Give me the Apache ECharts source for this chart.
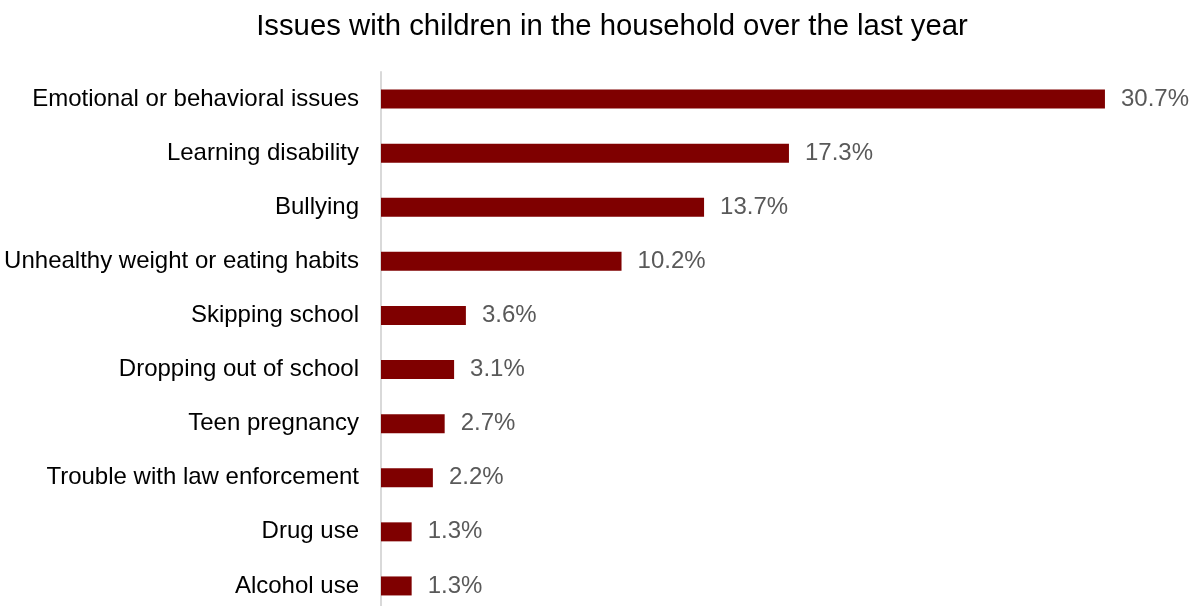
<!DOCTYPE html>
<html><head><meta charset="utf-8">
<script src="https://cdn.jsdelivr.net/npm/echarts@6/dist/echarts.min.js"></script>
<style>html,body{margin:0;padding:0;background:#fff;overflow:hidden}#c{width:1198px;height:613px}</style>
</head><body><div id="c"></div>
<script>
const titleText = 'Issues with children in the household over the last year';
const categories = ['Emotional or behavioral issues','Learning disability','Bullying','Unhealthy weight or eating habits','Skipping school','Dropping out of school','Teen pregnancy','Trouble with law enforcement','Drug use','Alcohol use'];
const values = [30.7,17.3,13.7,10.2,3.6,3.1,2.7,2.2,1.3,1.3];

const chart = echarts.init(document.getElementById('c'), null, {renderer:'canvas'});
chart.setOption({
  animation:false,
  title:{text:titleText,left:607,top:7,textAlign:'center',textStyle:{fontFamily:'Liberation Sans, Arial, sans-serif',fontSize:29.3,fontWeight:'normal',color:'#000'}},
  grid:{left:381,top:72,right:62.4,bottom:0,containLabel:false},
  xAxis:{type:'value',min:0,max:32,show:false},
  yAxis:{type:'category',data:categories,inverse:true,
    axisLine:{show:true,lineStyle:{color:'#d9d9d9',width:2}},
    axisTick:{show:false},
    axisLabel:{margin:22,color:'#000',fontSize:24,fontFamily:'Liberation Sans, Arial, sans-serif'}},
  series:[{type:'bar',data:values,barWidth:19,itemStyle:{color:'#7f0000'},
    label:{show:true,position:'right',distance:16,formatter:p=>p.value.toFixed(1)+'%',color:'#595959',fontSize:24,fontFamily:'Liberation Sans, Arial, sans-serif'}}]
});
</script></body></html>
